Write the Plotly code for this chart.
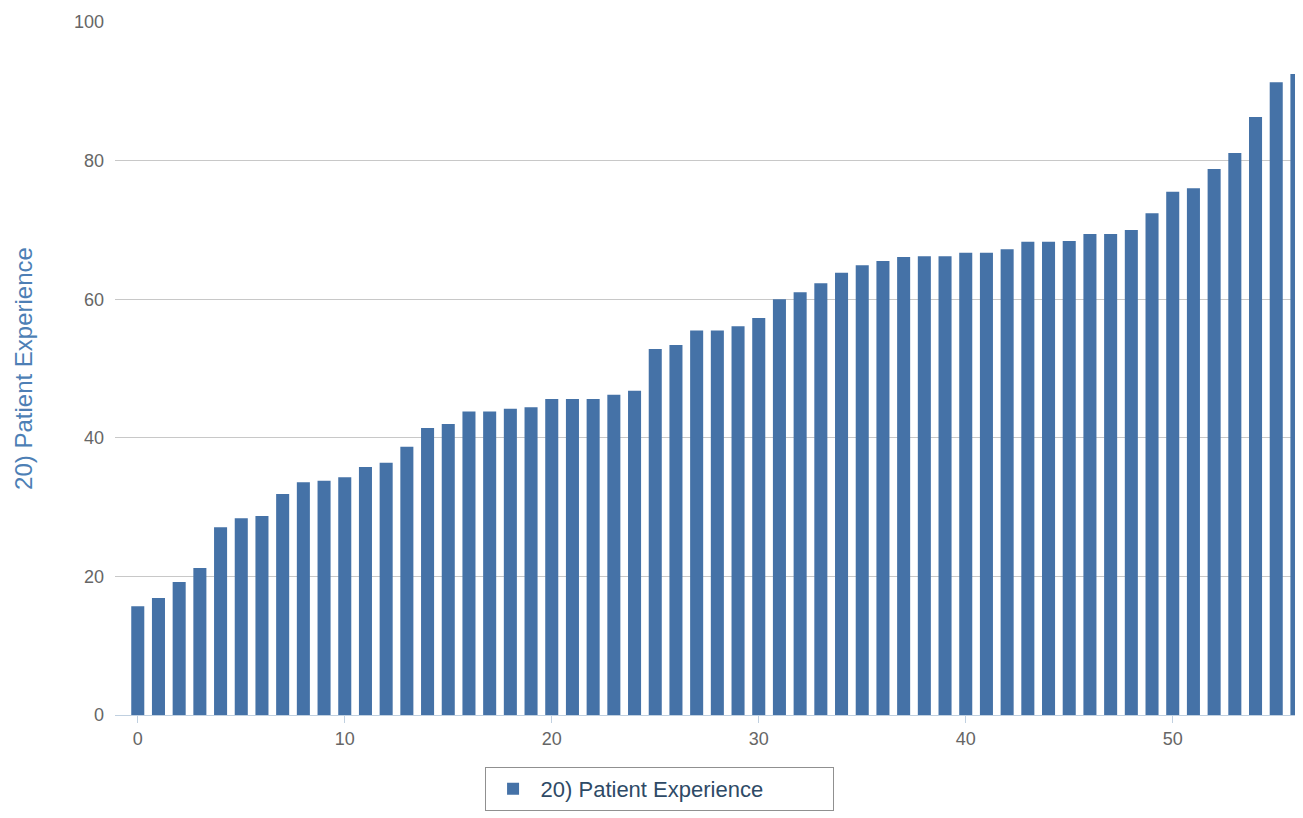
import plotly.graph_objects as go

categories = list(range(57))
values = [15.7, 16.9, 19.2, 21.2, 27.1, 28.4, 28.7, 31.9, 33.6, 33.8,
          34.3, 35.8, 36.4, 38.7, 41.4, 42.0, 43.8, 43.8, 44.2, 44.4,
          45.6, 45.6, 45.6, 46.2, 46.8, 52.8, 53.4, 55.5, 55.5, 56.1,
          57.3, 60.0, 61.0, 62.3, 63.8, 64.9, 65.5, 66.1, 66.2, 66.2,
          66.7, 66.7, 67.2, 68.3, 68.3, 68.4, 69.4, 69.4, 70.0, 72.4,
          75.5, 76.0, 78.8, 81.1, 86.3, 91.3, 92.5]
series_name = "20) Patient Experience"
x_ticks = [0, 10, 20, 30, 40, 50]
y_ticks = [0, 20, 40, 60, 80, 100]

fig = go.Figure()
fig.add_trace(go.Bar(
    x=categories, y=values, name=series_name,
    marker=dict(color="#4572a7", line=dict(width=0)),
    width=0.63, showlegend=True,
))

fig.update_layout(
    width=1303, height=818,
    margin=dict(l=107, r=0, t=14, b=111),
    paper_bgcolor="white", plot_bgcolor="white",
    font=dict(family="Liberation Sans, Arial, sans-serif", color="#666666"),
    showlegend=True,
    legend=dict(
        orientation="h",
        x=0.309, xanchor="left", y=-0.075, yanchor="top",
        bordercolor="#909090", borderwidth=1,
        font=dict(size=22, color="#2e4a66"),
        entrywidth=287, entrywidthmode="pixels",
        itemwidth=45,
        itemsizing="constant",
    ),
)
fig.update_xaxes(
    range=[-1.1, 56.68],
    tickvals=x_ticks, ticktext=[str(v) for v in x_ticks],
    showgrid=False, showline=True, linecolor="#c0d0e0", linewidth=1,
    ticks="outside", ticklen=7, tickcolor="#c0d0e0",
    tickfont=dict(size=18, color="#666666"),
    zeroline=False,
)
fig.update_yaxes(
    range=[0, 100],
    tickvals=y_ticks, ticktext=[str(v) for v in y_ticks],
    showgrid=True, gridcolor="#c8c8c8", gridwidth=1,
    zeroline=False, showline=False,
    tickfont=dict(size=18, color="#666666"),
    ticklabelstandoff=10,
    title=dict(text=series_name, font=dict(size=24, color="#4d7fb5"), standoff=34),
)

fig.write_html("out.html")
